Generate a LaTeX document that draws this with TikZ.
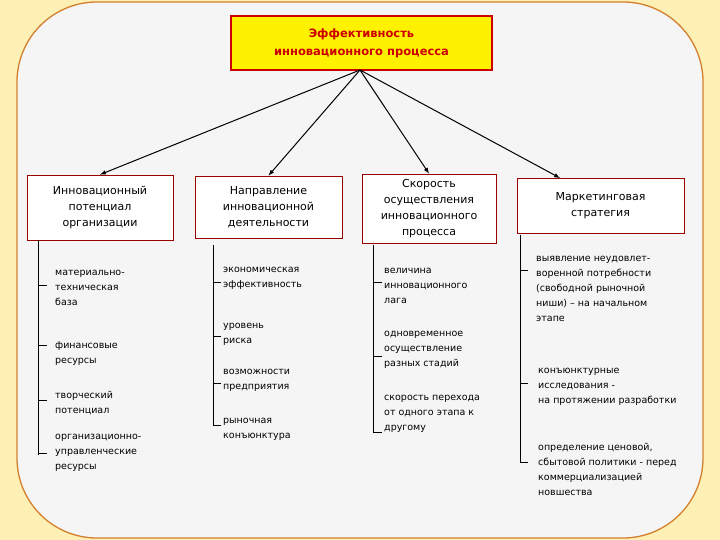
\documentclass[tikz,border=0pt]{standalone}
\usepackage{fontspec}
\setmainfont{DejaVu Sans}
\begin{document}
\begin{tikzpicture}[x=1pt,y=-1pt,
  hdr/.style={draw=red!60!black,fill=white,line width=0.8pt,align=center,font=\fontsize{11}{16}\selectfont},
  item/.style={anchor=west,align=left,font=\fontsize{9.5}{15}\selectfont,inner sep=0pt},
  arr/.style={-latex,line width=1pt},
  ln/.style={line width=0.6pt}]
\fill[yellow!20!white!90!orange] (0,0) rectangle (720,540);
\filldraw[fill=gray!8,draw=brown!70!orange,line width=1.3pt,rounded corners=80pt] (17,2) rectangle (703,538);
\useasboundingbox (0,0) rectangle (720,540);
\node[draw=red!80!black,line width=1.5pt,fill=yellow,minimum width=261pt,minimum height=54pt,align=center,font=\bfseries\fontsize{11.5}{18}\selectfont,text=red!80!black] (top) at (361.5,43) {Эффективность\\инновационного процесса};
\node[hdr,minimum width=146pt,minimum height=65pt] (b1) at (100,207.5) {Инновационный\\потенциал\\организации};
\node[hdr,minimum width=147pt,minimum height=62pt] (b2) at (268.5,207) {Направление\\инновационной\\деятельности};
\node[hdr,minimum width=134pt,minimum height=69pt] (b3) at (429,208.5) {Скорость\\осуществления\\инновационного\\процесса};
\node[hdr,minimum width=167pt,minimum height=55pt] (b4) at (600.5,205.5) {Маркетинговая\\стратегия};
\coordinate (o) at (360,70);
\coordinate (t4) at (560,178);
\draw[arr] (o) -- (b1.north);
\draw[arr] (o) -- (b2.north);
\draw[arr] (o) -- (b3.north);
\draw[arr] (o) -- (t4);
% column 1
\draw[ln] (38,240) -- (38,455);
\foreach \y/\c/\t in {285/288/{материально-\\техническая\\база},345/354/{финансовые\\ресурсы},400/403/{творческий\\потенциал},453/453/{организационно-\\управленческие\\ресурсы}}{
  \draw[ln] (38,\y) -- (47,\y);
  \node[item] at (55,\c) {\t};}
% column 2
\draw[ln] (213,245) -- (213,425);
\foreach \y/\c/\t in {282/278/{экономическая\\эффективность},336/334/{уровень\\риска},383/380/{возможности\\предприятия},425/429/{рыночная\\конъюнктура}}{
  \draw[ln] (213,\y) -- (221,\y);
  \node[item] at (223,\c) {\t};}
% column 3
\draw[ln] (373,245) -- (373,432);
\foreach \y/\c/\t in {282/286/{величина\\инновационного\\лага},356/350/{одновременное\\осуществление\\разных стадий},432/414/{скорость перехода\\от одного этапа к\\другому}}{
  \draw[ln] (373,\y) -- (382,\y);
  \node[item] at (384,\c) {\t};}
% column 4
\draw[ln] (520,235) -- (520,462);
\node[item] (m1) at (536,289) {выявление неудовлет-\\воренной потребности\\(свободной рыночной\\ниши) – на начальном\\этапе};
\draw[ln] (520,270) -- (528,270);
\node[item] (m2) at (538,387) {конъюнктурные\\исследования -\\на протяжении разработки};
\draw[ln] (520,383) -- (528,383);
\node[item] (m3) at (538,469) {определение ценовой,\\сбытовой политики - перед\\коммерциализацией\\новшества};
\draw[ln] (520,462) -- (528,462);
\end{tikzpicture}
\end{document}
